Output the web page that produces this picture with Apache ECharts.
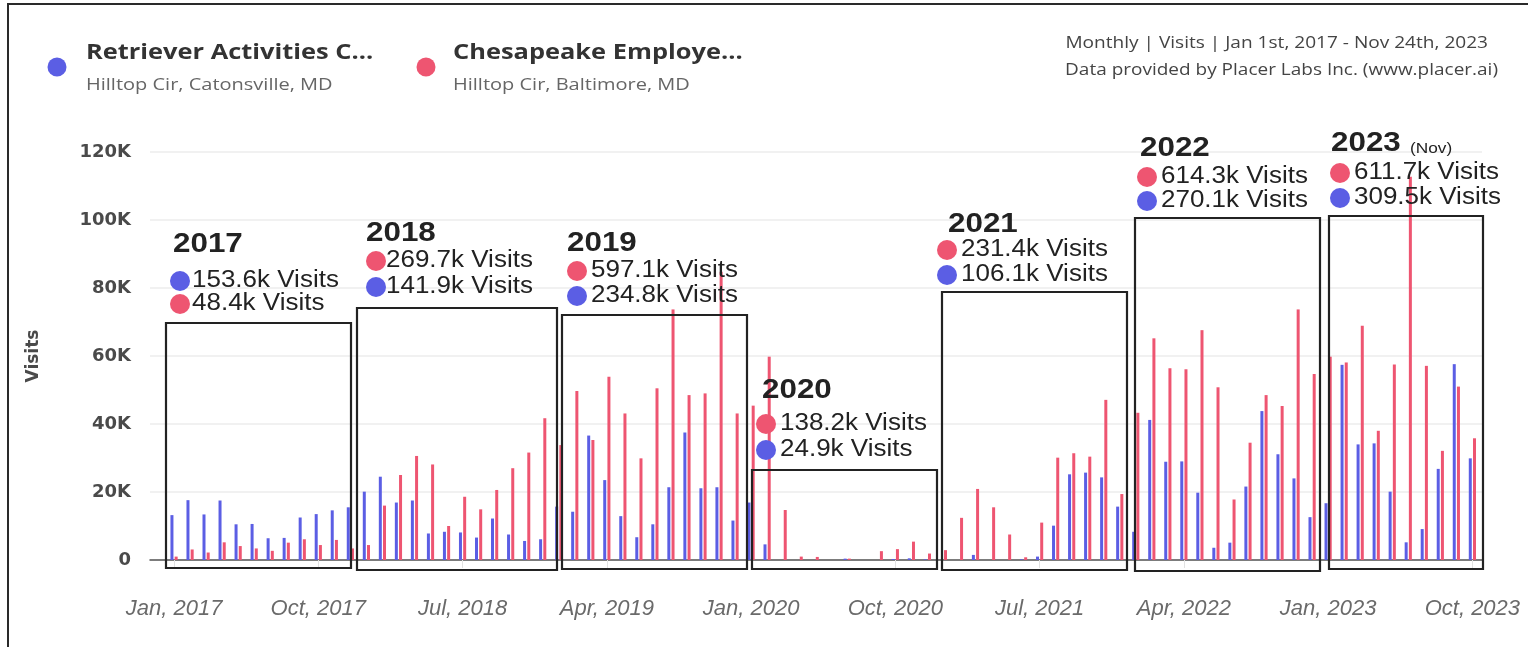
<!DOCTYPE html>
<html>
<head>
<meta charset="utf-8">
<script src="https://cdn.jsdelivr.net/npm/echarts@6/dist/echarts.min.js"></script>
<style>
html,body{margin:0;padding:0;background:#fff;}
#chart{width:1528px;height:647px;}
</style>
</head>
<body>
<div id="chart"></div>
<script>
// ---- DATA (visits, thousands) ----
const monthNames = ['Jan','Feb','Mar','Apr','May','Jun','Jul','Aug','Sep','Oct','Nov','Dec'];
const years = [2017, 2018, 2019, 2020, 2021, 2022, 2023];
const xTickLabels = ['Jan, 2017','Oct, 2017','Jul, 2018','Apr, 2019','Jan, 2020','Oct, 2020','Jul, 2021','Apr, 2022','Jan, 2023','Oct, 2023'];
const xTickIndex = [0, 9, 18, 27, 36, 45, 54, 63, 72, 81];
const yTickLabels = ['0','20K','40K','60K','80K','100K','120K'];

const retrieverVisits = [
  13.2,17.6,13.4,17.5,10.5,10.6,6.4,6.5,12.5,13.5,14.6,15.5,
  20.1,24.5,16.9,17.5,7.8,8.3,8.1,6.6,12.2,7.5,5.6,6.1,
  15.7,14.2,36.6,23.5,12.9,6.7,10.5,21.4,37.5,21.1,21.4,11.6,
  16.9,4.6,0,0,0,0,0.4,0,0,0.3,0.5,0.2,
  0,0,1.5,0,0,0.2,1.0,10.1,25.2,25.7,24.3,15.7,
  8.3,41.2,28.9,29.0,19.8,3.6,5.1,21.6,43.8,31.1,24.0,12.6,
  16.7,57.4,34.0,34.3,20.1,5.2,9.1,26.8,57.6,29.9
];
const chesapeakeVisits = [
  1.0,3.1,2.2,5.2,4.1,3.4,2.7,5.1,6.1,4.4,5.9,3.4,
  4.4,16.0,25.0,30.6,28.1,10.0,18.6,14.9,20.6,27.0,31.6,41.7,
  33.8,49.7,35.3,53.9,43.1,29.9,50.5,73.7,48.5,49.0,84.8,43.1,
  45.4,59.8,14.7,1.0,0.9,0,0.4,0,2.6,3.2,5.4,1.9,
  2.9,12.4,20.9,15.5,7.5,0.8,11.0,30.1,31.4,30.4,47.1,19.4,
  43.3,65.2,56.4,56.1,67.6,50.8,17.8,34.5,48.5,45.3,73.7,54.7,
  59.8,58.1,68.9,38.0,57.5,112.7,57.1,32.1,51.0,35.8
];
// yearly totals as printed in the annotations
const annYears = ['2017','2018','2019','2020','2021','2022','2023'];
const annRetrieverTotals = ['153.6k Visits','141.9k Visits','234.8k Visits','24.9k Visits','106.1k Visits','270.1k Visits','309.5k Visits'];
const annChesapeakeTotals = ['48.4k Visits','269.7k Visits','597.1k Visits','138.2k Visits','231.4k Visits','614.3k Visits','611.7k Visits'];
const annBlueFirst = [true,false,false,false,false,false,false];

// ---- layout (annotation placement, px) ----
const annPos = [ // yearX, yearY, dotX, line1Y, line2Y, textX
  [173,244,180,281,304,192],
  [366,233,376,261,287,386],
  [567,243,577,271,296,591],
  [762,390,766,424,450,780],
  [948,224,947,250,275,961],
  [1140,148,1147,177,201,1161],
  [1331,143,1340,173,198,1354]
];
const annBoxes = [
  [166,323,351,568],[357,308,557,570],[562,315,747,569],[752,470,937,569],
  [942,292,1127,570],[1135,218,1320,571],[1329,216,1483,569]
];

const BLUE = '#5b5ee4';
const RED = '#ee5571';

const months = [];
years.forEach(y => monthNames.forEach(m => months.push(m + ', ' + y)));
const blueData = retrieverVisits.map((v, i) => [i, v * 1000]);
const redData = chesapeakeVisits.map((v, i) => [i, v * 1000]);

const chart = echarts.init(document.getElementById('chart'));

const graphics = [];
// outer frame
graphics.push({type:'rect', shape:{x:8,y:4,width:1540,height:700}, style:{fill:'none', stroke:'#2a2a2a', lineWidth:2}, z:1});
// legend
graphics.push({type:'circle', shape:{cx:57,cy:67,r:9.5}, style:{fill:BLUE}});
graphics.push({type:'text', x:86, y:53, scaleX:1.21, style:{text:'Retriever Activities C...', font:'bold 21px "Open Sans"', fill:'#333', textVerticalAlign:'middle'}});
graphics.push({type:'text', x:86, y:85, scaleX:1.25, style:{text:'Hilltop Cir, Catonsville, MD', font:'16px "Open Sans"', fill:'#666', textVerticalAlign:'middle'}});
graphics.push({type:'circle', shape:{cx:426,cy:67,r:9.5}, style:{fill:RED}});
graphics.push({type:'text', x:453, y:53, scaleX:1.21, style:{text:'Chesapeake Employe...', font:'bold 21px "Open Sans"', fill:'#333', textVerticalAlign:'middle'}});
graphics.push({type:'text', x:453, y:85, scaleX:1.25, style:{text:'Hilltop Cir, Baltimore, MD', font:'16px "Open Sans"', fill:'#666', textVerticalAlign:'middle'}});
// top-right notes
graphics.push({type:'text', x:1488, y:44, scaleX:1.23, style:{text:'Monthly | Visits | Jan 1st, 2017 - Nov 24th, 2023', font:'15.5px "Open Sans"', fill:'#444', textAlign:'right', textVerticalAlign:'middle'}});
graphics.push({type:'text', x:1498, y:71, scaleX:1.225, style:{text:'Data provided by Placer Labs Inc. (www.placer.ai)', font:'15.5px "Open Sans"', fill:'#444', textAlign:'right', textVerticalAlign:'middle'}});

// annotations
annYears.forEach((yr, i) => {
  const p = annPos[i], b = annBoxes[i];
  graphics.push({type:'rect', shape:{x:b[0], y:b[1], width:b[2]-b[0], height:b[3]-b[1]}, style:{fill:'none', stroke:'#222', lineWidth:2.2}, z:50});
  graphics.push({type:'text', x:p[0], y:p[1], scaleX:1.12, style:{text:yr, font:'bold 28px "Liberation Sans"', fill:'#222', textVerticalAlign:'middle'}, z:60});
  if (yr === '2023') {
    graphics.push({type:'text', x:p[0]+79, y:p[1]+6, scaleX:1.15, style:{text:'(Nov)', font:'15px "Liberation Sans"', fill:'#222', textVerticalAlign:'middle'}, z:60});
  }
  const firstColor = annBlueFirst[i] ? BLUE : RED;
  const secondColor = annBlueFirst[i] ? RED : BLUE;
  const firstText = annBlueFirst[i] ? annRetrieverTotals[i] : annChesapeakeTotals[i];
  const secondText = annBlueFirst[i] ? annChesapeakeTotals[i] : annRetrieverTotals[i];
  graphics.push({type:'circle', shape:{cx:p[2], cy:p[3], r:10}, style:{fill:firstColor}, z:60});
  graphics.push({type:'circle', shape:{cx:p[2], cy:p[4], r:10}, style:{fill:secondColor}, z:60});
  graphics.push({type:'text', x:p[5], y:p[3], scaleX:1.13, style:{text:firstText, font:'23px "Liberation Sans"', fill:'#222', textVerticalAlign:'middle'}, z:60});
  graphics.push({type:'text', x:p[5], y:p[4], scaleX:1.13, style:{text:secondText, font:'23px "Liberation Sans"', fill:'#222', textVerticalAlign:'middle'}, z:60});
});

const option = {
  backgroundColor: '#fff',
  animation: false,
  grid: {left:150, right:46, top:152, bottom:87},
  xAxis: {
    type: 'value',
    min: -1.5,
    max: 81.6,
    splitLine: {show:false},
    axisLine: {show:true, lineStyle:{color:'#555', width:1.5}},
    axisTick: {show:true, customValues: xTickIndex, length:8, lineStyle:{color:'#e2e2e2'}},
    axisLabel: {
      customValues: xTickIndex,
      formatter: v => xTickLabels[xTickIndex.indexOf(Math.round(v))] || '',
      fontFamily: 'Liberation Sans', fontStyle: 'italic', fontSize: 22, color: '#6a6a6a', margin: 38
    }
  },
  yAxis: {
    type: 'value',
    min: 0, max: 120000, interval: 20000,
    name: 'Visits', nameLocation: 'middle', nameGap: 108,
    nameTextStyle: {fontFamily:'DejaVu Sans', fontWeight:'bold', fontSize:17, color:'#4a4a4a'},
    axisLine: {show:false},
    axisTick: {show:false},
    splitLine: {lineStyle:{color:'#ececec', width:1.5}},
    axisLabel: {
      formatter: v => yTickLabels[Math.round(v / 20000)],
      fontFamily: 'DejaVu Sans', fontWeight: 'bold', fontSize: 18, color: '#4a4a4a', margin: 19
    }
  },
  series: [
    {name:'Retriever Activities C...', type:'bar', data: blueData, barWidth:3, barGap:'40%', itemStyle:{color:BLUE}},
    {name:'Chesapeake Employe...', type:'bar', data: redData, barWidth:3, barGap:'40%', itemStyle:{color:RED}}
  ],
  graphic: graphics
};
chart.setOption(option);
</script>
</body>
</html>
